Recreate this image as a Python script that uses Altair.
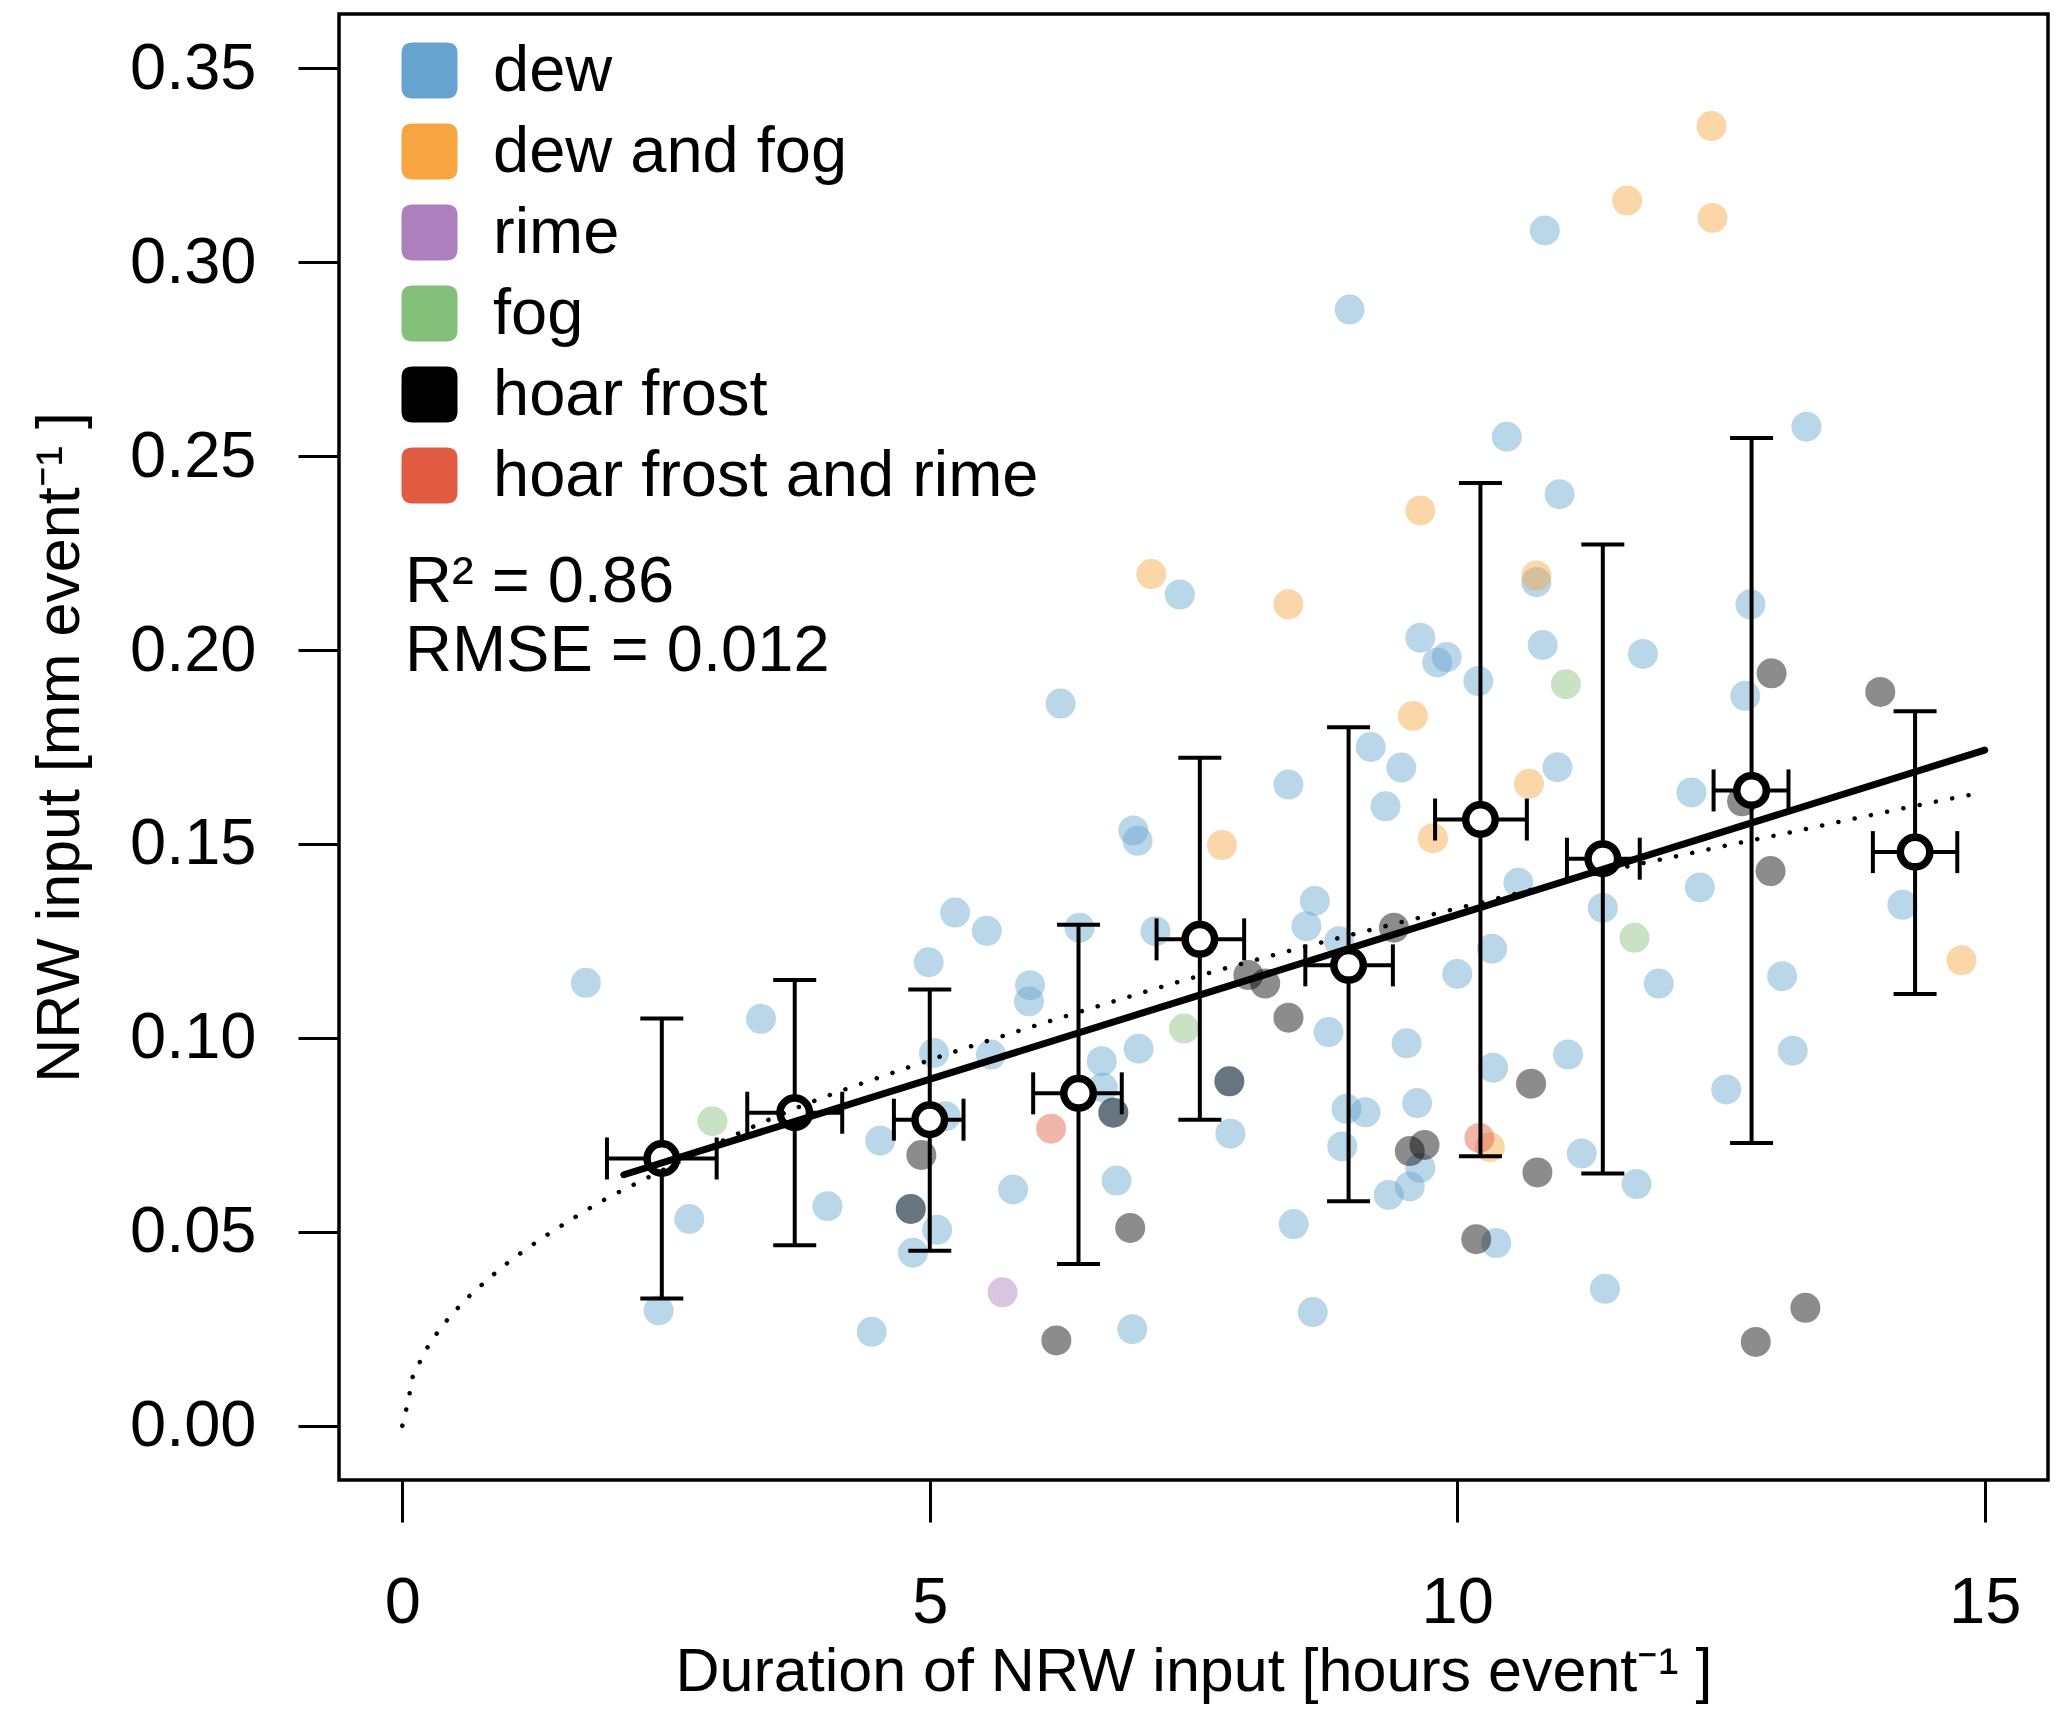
import altair as alt
import pandas as pd

# ---- data ----
categories = ["dew", "dew and fog", "rime", "fog", "hoar frost", "hoar frost and rime"]
cat_colors = ["#66A3CF", "#F6A540", "#AD7FBC", "#84BF79", "#000000", "#E15B43"]

dew_x = [1.74, 3.40, 2.72, 2.43, 4.99, 5.04, 4.53, 4.82, 5.07, 4.84, 4.03, 4.45, 5.15, 5.24,
         5.54, 5.95, 5.94, 6.42, 7.14, 6.93, 6.97, 8.40, 9.18, 9.47, 9.32, 8.65, 8.57, 8.88,
         8.78, 10.00, 9.52, 6.98, 6.63, 6.64, 5.58, 7.84, 6.74, 5.79, 6.77, 6.92, 7.85, 8.45,
         8.63, 8.95, 9.13, 8.91, 9.62, 9.65, 9.55, 9.35, 6.24, 10.83, 8.98, 10.47, 13.31,
         10.97, 7.37, 10.75, 9.65, 9.90, 9.81, 10.81, 10.20, 11.76, 12.78, 12.73, 10.95,
         12.22, 10.58, 11.38, 12.30, 14.22, 10.33, 11.91, 13.08, 13.18, 11.05, 10.34, 12.55,
         11.18, 11.70, 10.37, 11.40]
dew_y = [0.1142, 0.1049, 0.0533, 0.0297, 0.1195, 0.0961, 0.0735, 0.0559, 0.0505, 0.0446,
         0.0566, 0.0242, 0.0798, 0.1323, 0.1276, 0.1136, 0.1094, 0.1284, 0.1275, 0.1535,
         0.1508, 0.1653, 0.1750, 0.1697, 0.1597, 0.1353, 0.1288, 0.1249, 0.1015, 0.1165,
         0.0986, 0.0972, 0.0940, 0.0872, 0.0957, 0.0888, 0.0807, 0.0609, 0.0632, 0.0249,
         0.0753, 0.0520, 0.0293, 0.0817, 0.0808, 0.0720, 0.0832, 0.0665, 0.0617, 0.0595,
         0.1862, 0.3082, 0.2878, 0.2550, 0.2576, 0.2402, 0.2143, 0.2175, 0.2032, 0.1982,
         0.1968, 0.2013, 0.1920, 0.1990, 0.2118, 0.1882, 0.1698, 0.1633, 0.1400, 0.1335,
         0.1388, 0.1343, 0.1230, 0.1140, 0.1159, 0.0967, 0.0957, 0.0923, 0.0867, 0.0702,
         0.0623, 0.0471, 0.0353]

dewfog_x = [12.41, 11.61, 12.42, 9.65, 7.10, 8.40, 10.75, 9.58, 10.68, 9.77, 7.77, 14.78, 10.31]
dewfog_y = [0.3351, 0.3159, 0.3114, 0.2360, 0.2196, 0.2118, 0.2192, 0.1830, 0.1655, 0.1515,
            0.1497, 0.1200, 0.0718]

rime_x = [5.69]
rime_y = [0.0344]

fog_x = [2.94, 7.41, 11.03, 11.68]
fog_y = [0.0785, 0.1024, 0.1912, 0.1258]

hoar_x = [4.92, 4.82, 6.74, 6.90, 6.20, 7.84, 8.02, 8.18, 8.40, 9.40, 9.69, 9.55, 10.18,
          10.70, 10.76, 12.98, 14.01, 12.97, 12.70, 13.30, 12.83]
hoar_y = [0.0698, 0.0559, 0.0807, 0.0510, 0.0220, 0.0888, 0.1162, 0.1140, 0.1052, 0.1284,
          0.0724, 0.0708, 0.0481, 0.0882, 0.0653, 0.1940, 0.1892, 0.1430, 0.1610, 0.0304,
          0.0216]

hoarrime_x = [6.15, 10.21]
hoarrime_y = [0.0766, 0.0742]

# binned means with error bars
bin_x = [2.46, 3.72, 5.00, 6.41, 7.56, 8.97, 10.22, 11.38, 12.79, 14.34]
bin_y = [0.0689, 0.0807, 0.0789, 0.0857, 0.1254, 0.1187, 0.1563, 0.1462, 0.1638, 0.1479]
bin_x_lo = [1.94, 3.27, 4.66, 5.98, 7.15, 8.56, 9.79, 11.04, 12.43, 13.94]
bin_x_hi = [2.98, 4.17, 5.32, 6.82, 7.98, 9.39, 10.66, 11.73, 13.14, 14.74]
bin_y_lo = [0.0328, 0.0465, 0.0451, 0.0417, 0.0789, 0.0579, 0.0695, 0.0650, 0.0729, 0.1113]
bin_y_hi = [0.1050, 0.1149, 0.1125, 0.1292, 0.1722, 0.1801, 0.2431, 0.2272, 0.2547, 0.1842]

# linear fit (solid) and power fit (dotted)
lin_x = [2.10, 15.0]
lin_y = [0.0647, 0.1742]
dot_x = [0.0, 0.035, 0.069, 0.098, 0.164, 0.237, 0.325, 0.424, 0.528, 0.638, 0.756, 0.875,
         0.999, 1.122, 1.384, 1.651, 1.924, 2.205, 3.78, 4.83, 6.49, 7.85, 9.07, 10.15,
         11.7, 12.16, 12.62, 13.09, 13.55, 14.02, 14.48, 15.0]
dot_y = [0.0, 0.0039, 0.0083, 0.0125, 0.0163, 0.0201, 0.0237, 0.0272, 0.0304, 0.0335,
         0.0364, 0.0392, 0.0420, 0.0445, 0.0494, 0.054, 0.0584, 0.0623, 0.0824, 0.0927,
         0.1073, 0.1183, 0.1271, 0.1344, 0.1447, 0.1473, 0.15, 0.1526, 0.1553, 0.158,
         0.1606, 0.1634]

x_ticks = [0, 5, 10, 15]
y_ticks = [0.0, 0.05, 0.10, 0.15, 0.20, 0.25, 0.30, 0.35]
stat_lines = ["R\u00b2 = 0.86", "RMSE = 0.012"]

X_TITLE = "Duration of NRW input [hours event\u207b\u00b9 ]"
Y_TITLE = "NRW input [mm event\u207b\u00b9 ]"
FONT = "Liberation Sans"

# ---- frames ----
parts = []
for cat, xs_, ys_ in zip(categories,
                         [dew_x, dewfog_x, rime_x, fog_x, hoar_x, hoarrime_x],
                         [dew_y, dewfog_y, rime_y, fog_y, hoar_y, hoarrime_y]):
    parts.append(pd.DataFrame({"x": xs_, "y": ys_, "type": cat}))
pts = pd.concat(parts, ignore_index=True)
pts["order"] = range(len(pts))

bins = pd.DataFrame({"x": bin_x, "y": bin_y, "x_lo": bin_x_lo, "x_hi": bin_x_hi,
                     "y_lo": bin_y_lo, "y_hi": bin_y_hi})
lin = pd.DataFrame({"x": lin_x, "y": lin_y})
dots = pd.DataFrame({"x": dot_x, "y": dot_y})

x_scale = alt.Scale(domain=[-0.6, 15.6], nice=False, zero=False)
y_scale = alt.Scale(domain=[-0.014, 0.364], nice=False, zero=False)


def X(field):
    return alt.X(field, type="quantitative", scale=x_scale,
                 axis=alt.Axis(values=x_ticks, format="d", title=X_TITLE, tickSize=42,
                               labelPadding=49, titleY=210, titleBaseline="alphabetic"))


def Y(field):
    return alt.Y(field, type="quantitative", scale=y_scale,
                 axis=alt.Axis(values=y_ticks, format=".2f", title=Y_TITLE, tickSize=41,
                               labelPadding=42, titleX=-261, titleY=733,
                               titleBaseline="alphabetic"))


ROUND_SQ = ("M-0.6,-1 L0.6,-1 Q1,-1 1,-0.6 L1,0.6 Q1,1 0.6,1 L-0.6,1 "
            "Q-1,1 -1,0.6 L-1,-0.6 Q-1,-1 -0.6,-1 Z")

scatter = alt.Chart(pts).mark_point(filled=True, shape="circle", size=900, opacity=0.45,
                                    strokeWidth=0).encode(
    x=X("x"),
    y=Y("y"),
    order=alt.Order("order:Q"),
    color=alt.Color("type:N", scale=alt.Scale(domain=categories, range=cat_colors),
                    legend=alt.Legend(title=None, orient="none", legendX=58, legendY=24,
                                      symbolType=ROUND_SQ, symbolSize=3136, symbolOpacity=1,
                                      symbolStrokeWidth=0, labelFont=FONT, labelFontSize=65,
                                      labelOffset=31, rowPadding=15, padding=0,
                                      labelLimit=1000, labelColor="black"))
)

base_bins = alt.Chart(bins)
v_bar = base_bins.mark_rule(color="black", strokeWidth=4).encode(
    x=X("x"), y=Y("y_lo"), y2="y_hi")
v_cap_lo = base_bins.mark_tick(orient="horizontal", color="black", size=43, thickness=4,
                               opacity=1).encode(x=X("x"), y=Y("y_lo"))
v_cap_hi = base_bins.mark_tick(orient="horizontal", color="black", size=43, thickness=4,
                               opacity=1).encode(x=X("x"), y=Y("y_hi"))
h_bar = base_bins.mark_rule(color="black", strokeWidth=4).encode(
    x=X("x_lo"), x2="x_hi", y=Y("y"))
h_cap_lo = base_bins.mark_tick(orient="vertical", color="black", size=42, thickness=4,
                               opacity=1).encode(x=X("x_lo"), y=Y("y"))
h_cap_hi = base_bins.mark_tick(orient="vertical", color="black", size=42, thickness=4,
                               opacity=1).encode(x=X("x_hi"), y=Y("y"))
means = base_bins.mark_point(shape="circle", filled=True, fill="white", stroke="black",
                             strokeWidth=7.5, size=870, opacity=1).encode(x=X("x"), y=Y("y"))

dotted = alt.Chart(dots).mark_line(color="black", strokeWidth=4.5, strokeDash=[0.1, 16.5],
                                   strokeCap="round", interpolate="monotone").encode(
    x=X("x"), y=Y("y"))
solid = alt.Chart(lin).mark_line(color="black", strokeWidth=7, strokeCap="round").encode(
    x=X("x"), y=Y("y"))

txt1 = alt.Chart(pd.DataFrame({"t": [stat_lines[0]]})).mark_text(
    align="left", baseline="alphabetic", font=FONT, fontSize=65, color="black").encode(
    x=alt.value(66), y=alt.value(588), text="t:N")
txt2 = alt.Chart(pd.DataFrame({"t": [stat_lines[1]]})).mark_text(
    align="left", baseline="alphabetic", font=FONT, fontSize=65, color="black").encode(
    x=alt.value(66), y=alt.value(657), text="t:N")

chart = alt.layer(
    scatter, v_bar, v_cap_lo, v_cap_hi, h_bar, h_cap_lo, h_cap_hi, means, dotted, solid,
    txt1, txt2
).properties(
    width=1709, height=1466,
    autosize=alt.AutoSizeParams(type="none"),
    padding={"left": 331, "top": 6, "right": 10, "bottom": 230},
    background="white",
).configure_view(
    stroke="black", strokeWidth=3.5
).configure_axis(
    labelFont=FONT, labelFontSize=65, labelColor="black", titleFont=FONT, titleFontSize=61,
    titleFontWeight="normal", titleColor="black", tickColor="black", tickWidth=3,
    domain=False, grid=False, labelFlush=False, labelOverlap=False, labelBound=False
)

chart.save("out.html", embed_options={"renderer": "svg", "actions": False})
